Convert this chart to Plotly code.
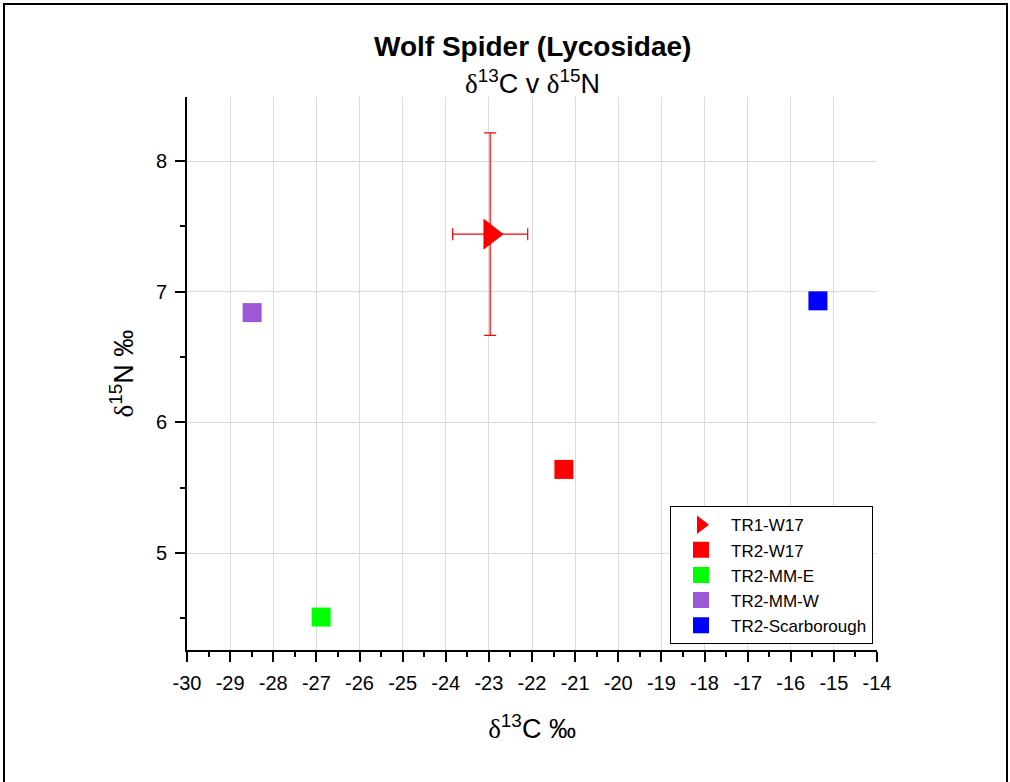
import plotly.graph_objects as go

# data
series = ["TR1-W17", "TR2-W17", "TR2-MM-E", "TR2-MM-W", "TR2-Scarborough"]
d13c = [-22.97, -21.26, -26.89, -28.49, -15.37]
d15n = [7.44, 5.64, 4.51, 6.84, 6.93]
err_c = [0.87, None, None, None, None]
err_n = [0.775, None, None, None, None]
colors = ["#ff0000", "#ff0000", "#00ff00", "#9b59d6", "#0000ff"]
symbols = ["triangle-right", "square", "square", "square", "square"]
sizes = [27, 19, 19, 19, 19]

x_ticks = list(range(-30, -13))
x_labels = ["-30", "-29", "-28", "-27", "-26", "-25", "-24", "-23", "-22",
            "-21", "-20", "-19", "-18", "-17", "-16", "-15", "-14"]
y_ticks = [5, 6, 7, 8]
y_labels = ["5", "6", "7", "8"]

W, H = 1010, 782
L, R, T, B = 187, 133, 97, 132

fig = go.Figure()
for i, name in enumerate(series):
    tr = dict(x=[d13c[i]], y=[d15n[i]], mode="markers", name=name,
              marker=dict(color=colors[i], symbol=symbols[i], size=sizes[i],
                          line=dict(width=0)))
    if err_c[i] is not None:
        tr["error_x"] = dict(type="data", array=[err_c[i]], color=colors[i],
                             thickness=1.2, width=6)
        tr["error_y"] = dict(type="data", array=[err_n[i]], color=colors[i],
                             thickness=1.2, width=6)
    fig.add_trace(go.Scatter(**tr))

delta = '<span style="font-family:Liberation Serif">δ</span>'

fig.update_layout(
    width=W, height=H,
    margin=dict(l=L, r=R, t=T, b=B),
    paper_bgcolor="white", plot_bgcolor="white",
    font=dict(family="Liberation Sans, Arial", size=20, color="black"),
    showlegend=True,
    legend=dict(x=0.700, y=0.260, xanchor="left", yanchor="top",
                bordercolor="black", borderwidth=1, bgcolor="white",
                font=dict(size=17), tracegroupgap=0, itemsizing="trace",
                itemwidth=50),
    xaxis=dict(range=[-30, -14], tickvals=x_ticks, ticktext=x_labels,
               showline=True, linecolor="black", linewidth=2,
               ticks="outside", ticklen=10, tickwidth=2, tickcolor="black",
               showgrid=True, gridcolor="#dcdcdc", gridwidth=1,
               zeroline=False, mirror=False, ticklabelstandoff=4,
               minor=dict(dtick=0.5, tick0=-30, ticks="outside", ticklen=5,
                          tickwidth=1.5, tickcolor="black", showgrid=False),
               title=dict(text=delta + "<sup>13</sup>C ‰", font=dict(size=27),
                          standoff=26)),
    yaxis=dict(range=[4.258, 8.49], tickvals=y_ticks, ticktext=y_labels,
               showline=True, linecolor="black", linewidth=2,
               ticks="outside", ticklen=10, tickwidth=2, tickcolor="black",
               showgrid=True, gridcolor="#dcdcdc", gridwidth=1,
               zeroline=False, mirror=False, ticklabelstandoff=4,
               minor=dict(dtick=0.5, tick0=4.5, ticks="outside", ticklen=5,
                          tickwidth=1.5, tickcolor="black", showgrid=False),
               title=dict(text=delta + "<sup>15</sup>N ‰", font=dict(size=27),
                          standoff=14)),
)

pw, ph = W - L - R, H - T - B
fig.add_annotation(text="<b>Wolf Spider (Lycosidae)</b>", xref="paper", yref="paper",
                   x=0.5, y=(H - B - 47) / ph, showarrow=False,
                   font=dict(size=28), xanchor="center", yanchor="middle")
fig.add_annotation(text=delta + "<sup>13</sup>C v " + delta + "<sup>15</sup>N",
                   xref="paper", yref="paper",
                   x=0.5, y=(H - B - 82) / ph, showarrow=False,
                   font=dict(size=27), xanchor="center", yanchor="middle")

# outer frame around the whole picture
fig.add_shape(type="rect", xref="paper", yref="paper",
              x0=(4 - L) / pw, x1=(1007 - L) / pw,
              y0=(H - B - 800) / ph, y1=(H - B - 4) / ph,
              line=dict(color="black", width=2), layer="above")

fig.write_html("out.html", config={"displayModeBar": False},
               post_script="document.body.style.margin='0';")
